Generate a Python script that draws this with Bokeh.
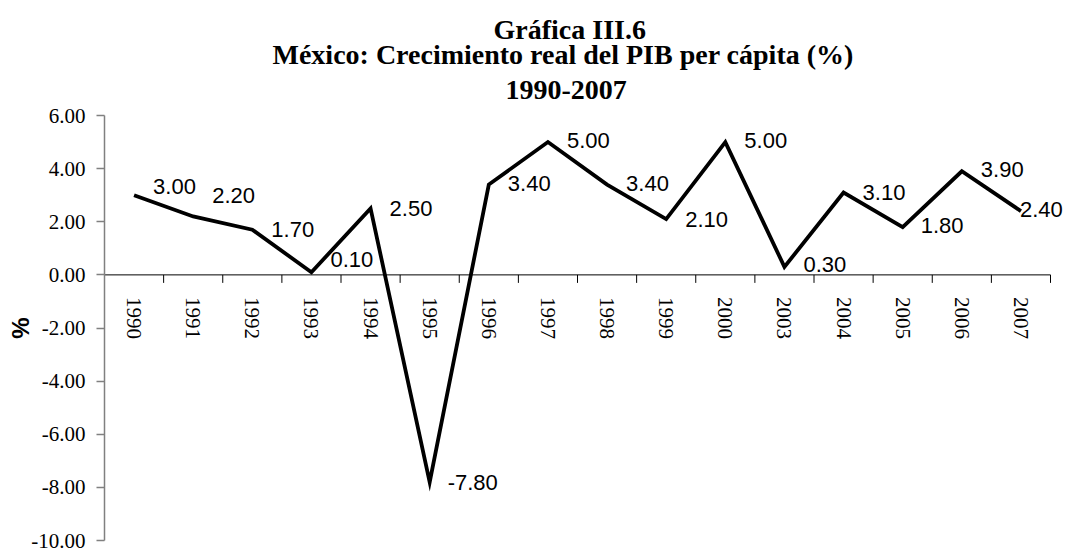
import math
from bokeh.plotting import figure
from bokeh.models import (Range1d, FixedTicker, PrintfTickFormatter,
                          ColumnDataSource, LabelSet, Title)
from bokeh.core.properties import value
from bokeh.embed import file_html
from bokeh.resources import INLINE

# ---- data ----
years = ["1990", "1991", "1992", "1993", "1994", "1995", "1996", "1997",
         "1998", "1999", "2000", "2003", "2004", "2005", "2006", "2007"]
growth = [3.00, 2.20, 1.70, 0.10, 2.50, -7.80, 3.40, 5.00,
          3.40, 2.10, 5.00, 0.30, 3.10, 1.80, 3.90, 2.40]
y_ticks = [-10, -8, -6, -4, -2, 0, 2, 4, 6]
title_lines = ["Gráfica III.6",
               "México: Crecimiento real del PIB per cápita (%)",
               "1990-2007"]
y_label = "%"

# ---- label placement (style) ----
label_dx = [19, 19, 19, 19, 19, 18, 19, 19, 19, 19, 19, 19, 19, 18, 19, -1]
label_dy = [9, 21, 0, 13, 0, 0, 1, 2, 1, 0, 2, 2, 0, 2, 2, 2]

SERIF = "Liberation Serif"
SANS = "Liberation Sans"

# ---- layout (pixels) ----
W, H = 1067, 552
FRAME_LEFT, AXIS_RIGHT = 104, 1050
FRAME_TOP, FRAME_BOTTOM = 115, 540

n = len(years)
xs = [i + 0.5 for i in range(n)]
labels_txt = ["%.2f" % v for v in growth]
x_end = n * (W - FRAME_LEFT) / (AXIS_RIGHT - FRAME_LEFT)

p = figure(width=W, height=H, title=None,
           x_range=Range1d(0, x_end), y_range=Range1d(-10, 6),
           output_backend="svg", toolbar_location=None,
           min_border_left=FRAME_LEFT, min_border_right=0,
           min_border_bottom=H - FRAME_BOTTOM, min_border_top=FRAME_TOP)
p.outline_line_color = None
p.background_fill_color = "white"
p.border_fill_color = "white"
p.xgrid.visible = False
p.ygrid.visible = False
p.xaxis.visible = False

# titles (added innermost first)
title_offsets = [389, 168, 401]
title_standoffs = [1, -17, 34]
for txt, off, so in reversed(list(zip(title_lines, title_offsets, title_standoffs))):
    p.add_layout(Title(text=txt, align="left", offset=off, standoff=so,
                       text_font=SERIF, text_font_size="28px",
                       text_font_style="bold", text_color="black"), "above")

# y axis
ya = p.yaxis[0]
ya.ticker = FixedTicker(ticks=y_ticks)
ya.formatter = PrintfTickFormatter(format="%.2f")
ya.major_label_text_font = SERIF
ya.major_label_text_font_size = "21px"
ya.major_label_text_color = "black"
ya.major_label_standoff = 11
ya.major_tick_out = 8
ya.major_tick_in = 0
ya.minor_tick_out = 0
ya.minor_tick_in = 0
ya.axis_line_color = "#808080"
ya.axis_line_width = 1.5
ya.major_tick_line_color = "#808080"
ya.major_tick_line_width = 1.5
ya.axis_label = y_label
ya.axis_label_text_font = SANS
ya.axis_label_text_font_size = "24px"
ya.axis_label_text_font_style = "bold"
ya.axis_label_text_color = "black"
ya.axis_label_standoff = -6

# category axis at zero
p.segment(x0=[0], y0=[0], x1=[n], y1=[0], line_color="black", line_width=1)
p.ray(x=list(range(n + 1)), y=[0] * (n + 1), length=8, length_units="screen",
      angle=-math.pi / 2, line_color="black", line_width=1)
p.text(x=xs, y=[0] * n, text=years, angle=-math.pi / 2, y_offset=22,
       text_align="left", text_baseline="middle",
       text_font=value(SERIF), text_font_size="21px", text_color="black")

# series line
src = ColumnDataSource(dict(x=xs, y=growth, t=labels_txt, dx=label_dx, dy=label_dy))
p.line("x", "y", source=src, line_color="black", line_width=3.8, line_join="miter")

p.add_layout(LabelSet(x="x", y="y", text="t", source=src, x_offset="dx", y_offset="dy",
                      text_align="left", text_baseline="middle",
                      text_font=value(SANS), text_font_size="22px", text_color="black"))

open("out.html", "w").write(file_html(p, INLINE))
